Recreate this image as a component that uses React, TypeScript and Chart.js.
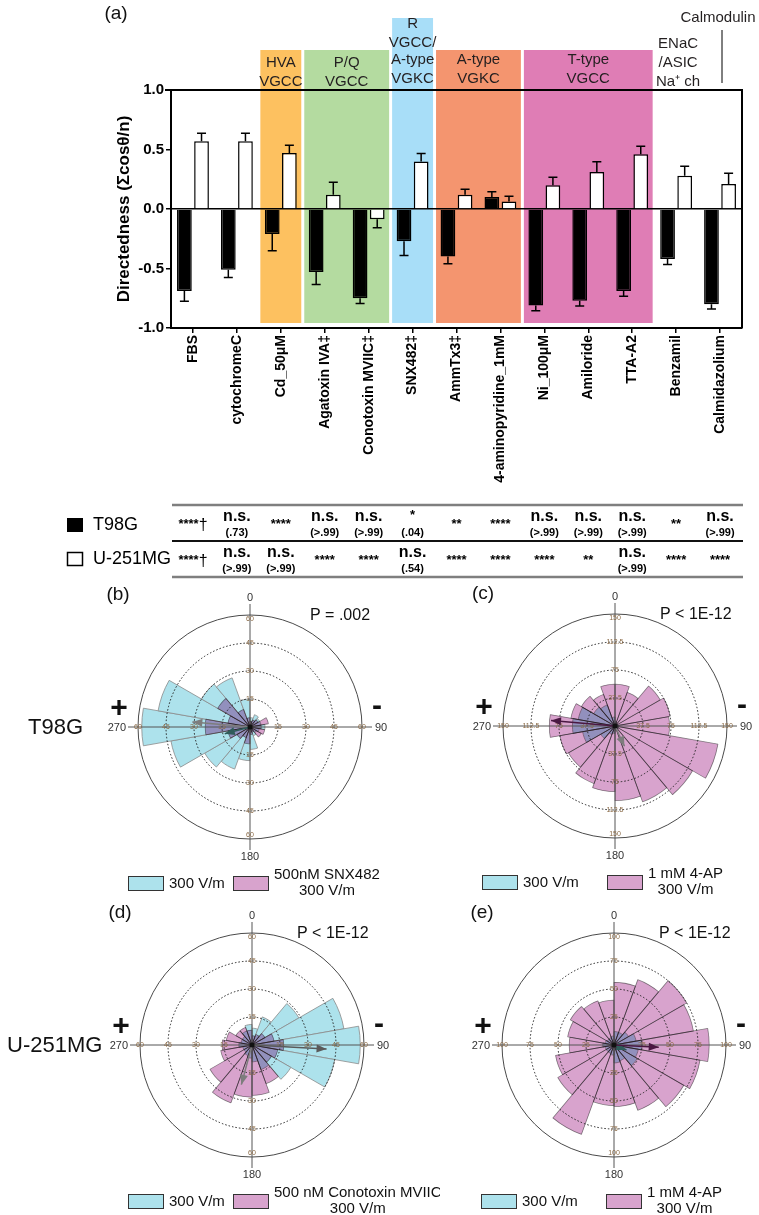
import React, { useEffect, useRef } from 'react';
import { Chart, registerables } from 'chart.js';
Chart.register(...registerables);

const FONT = "'Liberation Sans', Arial, Helvetica, sans-serif";
const NARROW = "'Liberation Sans Narrow', 'Arial Narrow', 'Liberation Sans', Arial, sans-serif";

// ---------------- Panel (a) data ----------------
const categories = [
  'FBS', 'cytochromeC', 'Cd_50μM', 'Agatoxin IVA‡', 'Conotoxin MVIIC‡', 'SNX482‡', 'AmmTx3‡',
  '4-aminopyridine_1mM', 'Ni_100μM', 'Amiloride', 'TTA-A2', 'Benzamil', 'Calmidazolium',
];
const t98gValues = [-0.69, -0.51, -0.21, -0.53, -0.75, -0.27, -0.40, 0.10, -0.81, -0.77, -0.69, -0.42, -0.80];
const t98gErrors = [0.086, 0.066, 0.14, 0.105, 0.045, 0.12, 0.06, 0.046, 0.044, 0.045, 0.043, 0.046, 0.04];
const u251Values = [0.57, 0.57, 0.47, 0.12, -0.087, 0.40, 0.12, 0.062, 0.20, 0.31, 0.46, 0.28, 0.21];
const u251Errors = [0.067, 0.067, 0.065, 0.105, 0.07, 0.066, 0.046, 0.045, 0.067, 0.087, 0.067, 0.08, 0.09];
const yTickValues = [-1, -0.5, 0, 0.5, 1];

const bandStart = [2, 3, 5, 6, 8];
const bandEnd = [2, 4, 5, 7, 10];
const bandLabels = [['HVA', 'VGCC'], ['P/Q', 'VGCC'], ['R', 'VGCC/', 'A-type', 'VGKC'], ['A-type', 'VGKC'], ['T-type', 'VGCC']];
const naLabel = ['ENaC', '/ASIC', 'Na⁺ ch'];
const calmodulinLabel = 'Calmodulin';

const sigT98G = ['****†', 'n.s.\n(.73)', '****', 'n.s.\n(>.99)', 'n.s.\n(>.99)', '*\n(.04)', '**', '****', 'n.s.\n(>.99)', 'n.s.\n(>.99)', 'n.s.\n(>.99)', '**', 'n.s.\n(>.99)'];
const sigU251 = ['****†', 'n.s.\n(>.99)', 'n.s.\n(>.99)', '****', '****', 'n.s.\n(.54)', '****', '****', '****', '**', 'n.s.\n(>.99)', '****', '****'];

// ---------------- Rose plots data (18 bins of 20°, clockwise from 0) ----------------
const roseBins = ['0', '20', '40', '60', '80', '100', '120', '140', '160', '180', '200', '220', '240', '260', '280', '300', '320', '340'];

const roseBControl = [5, 7, 6, 6, 8, 5, 4, 5, 12, 18, 24, 28, 43, 58, 50, 30, 28, 15];
const roseBDrug = [3, 4, 5, 10, 6, 8, 7, 3, 4, 9, 6, 8, 12, 24, 12, 20, 10, 5];
const roseBTicks = [15, 30, 45, 60];
const roseBArrows = [[275, 31], [255, 14]]; // [angle, length] control, drug

const roseCControl = [6, 4, 4, 4, 5, 5, 5, 5, 6, 10, 12, 22, 44, 57, 50, 33, 30, 12];
const roseCDrug = [56, 48, 70, 75, 73, 140, 120, 108, 100, 88, 82, 72, 75, 88, 60, 52, 45, 56];
const roseCTicks = [37.5, 75, 112.5, 150];
const roseCArrows = [[155, 30], [275, 86]];

const roseDControl = [9, 16, 29, 50, 58, 45, 24, 14, 9, 7, 6, 5, 5, 7, 6, 6, 8, 11];
const roseDDrug = [5, 6, 8, 12, 17, 14, 12, 22, 27, 28, 33, 26, 17, 16, 14, 10, 10, 8];
const roseDTicks = [15, 30, 45, 60];
const roseDArrows = [[93, 40], [195, 22]];

const roseEControl = [12, 12, 15, 20, 25, 22, 24, 15, 16, 9, 8, 8, 8, 10, 8, 7, 7, 8];
const roseEDrug = [56, 62, 75, 72, 85, 78, 72, 62, 55, 54, 85, 58, 53, 40, 42, 45, 42, 40];
const roseETicks = [25, 50, 75, 100];
const roseEArrows = [[112, 12], [93, 40]];

// ---------------- styles ----------------
const BAND_COLORS = ['#FDC160', '#B4DBA0', '#A8DEF8', '#F4956F', '#DF7DB5'];
const CYAN = '#ADE2EC';
const PINK = '#D8A3CD';

function txt(ctx: CanvasRenderingContext2D, s: string, x: number, y: number, font: string,
  align: CanvasTextAlign = 'center', color = '#000', baseline: CanvasTextBaseline = 'middle') {
  ctx.font = font;
  ctx.fillStyle = color;
  ctx.textAlign = align;
  ctx.textBaseline = baseline;
  ctx.fillText(s, x, y);
}

function drawCell(ctx: CanvasRenderingContext2D, text: string, x: number, rowTop: number) {
  const [main, sub] = text.split('\n');
  if (main.startsWith('n.s.')) {
    txt(ctx, 'n.s.', x, rowTop + 12, `bold 16px ${FONT}`);
  } else {
    const dagger = main.endsWith('†');
    const stars = dagger ? main.slice(0, -1) : main;
    ctx.font = `bold 13px ${FONT}`;
    const sw = ctx.measureText(stars).width;
    ctx.font = `16px ${FONT}`;
    const dw = dagger ? ctx.measureText('†').width : 0;
    const start = x - (sw + dw) / 2;
    const base = sub ? rowTop + 14 : rowTop + 23;
    txt(ctx, stars, start, base, `bold 13px ${FONT}`, 'left', '#000', 'alphabetic');
    if (dagger) txt(ctx, '†', start + sw, rowTop + 25, `16px ${FONT}`, 'left', '#000', 'alphabetic');
  }
  if (sub) txt(ctx, sub, x, rowTop + 28, `bold 11px ${FONT}`);
}

function BarPanel() {
  const ref = useRef<HTMLCanvasElement>(null);
  useEffect(() => {
    const canvas = ref.current!;
    const bandsPlugin = {
      id: 'bands',
      beforeDraw(chart: any) {
        const { ctx, scales: { x }, chartArea } = chart;
        const step = x.getPixelForValue(1) - x.getPixelForValue(0);
        ctx.save();
        bandStart.forEach((s, i) => {
          const left = x.getPixelForValue(s) - step / 2 + 1.5;
          const right = x.getPixelForValue(bandEnd[i]) + step / 2 - 1.5;
          const top = bandLabels[i].length > 2 ? 18 : 50;
          ctx.fillStyle = BAND_COLORS[i];
          ctx.fillRect(left, top, right - left, chartArea.bottom - 5 - top);
          const lines = bandLabels[i];
          const lastY = i < 2 ? 82 : 79;
          const cxm = (left + right) / 2;
          lines.forEach((ln, k) => {
            const yy = lines.length > 2 ? [24, 43, 60, 79][k] : lastY - (lines.length - 1 - k) * 19;
            txt(ctx, ln, cxm, yy, `15px ${NARROW}`, 'center', '#231F20');
          });
        });
        const bx = x.getPixelForValue(11);
        naLabel.forEach((ln, k) => txt(ctx, ln, bx + 2, 44 + k * 19, `15px ${NARROW}`, 'center', '#231F20'));
        txt(ctx, calmodulinLabel, 718, 18, `15px ${NARROW}`, 'center', '#231F20');
        ctx.strokeStyle = '#000';
        ctx.lineWidth = 1;
        ctx.beginPath();
        ctx.moveTo(722, 30);
        ctx.lineTo(722, 83);
        ctx.stroke();
        txt(ctx, '(a)', 116, 14, `19px ${FONT}`, 'center', '#111');
        ctx.restore();
      },
      afterDatasetsDraw(chart: any) {
        const { ctx, scales: { y }, chartArea } = chart;
        ctx.save();
        ctx.strokeStyle = '#000';
        ctx.lineWidth = 1.5;
        [t98gErrors, u251Errors].forEach((errs, di) => {
          const meta = chart.getDatasetMeta(di);
          const vals = chart.data.datasets[di].data as number[];
          meta.data.forEach((bar: any, i: number) => {
            const v = vals[i];
            const tip = v + Math.sign(v) * errs[i];
            const yv = y.getPixelForValue(v);
            const yt = y.getPixelForValue(tip);
            ctx.beginPath();
            ctx.moveTo(bar.x, yv);
            ctx.lineTo(bar.x, yt);
            ctx.moveTo(bar.x - 4.5, yt);
            ctx.lineTo(bar.x + 4.5, yt);
            ctx.stroke();
          });
        });
        ctx.lineWidth = 2;
        ctx.beginPath();
        ctx.moveTo(chartArea.left - 6, chartArea.top);
        ctx.lineTo(chartArea.right, chartArea.top);
        ctx.lineTo(chartArea.right, chartArea.bottom);
        ctx.stroke();
        ctx.restore();
      },
      afterDraw(chart: any) {
        const { ctx, scales: { x } } = chart;
        ctx.save();
        const rows = [505, 541];
        ctx.lineWidth = 2.5;
        ctx.strokeStyle = '#7f7f7f';
        ctx.beginPath(); ctx.moveTo(172, 505); ctx.lineTo(743, 505); ctx.stroke();
        ctx.beginPath(); ctx.moveTo(172, 577); ctx.lineTo(743, 577); ctx.stroke();
        ctx.lineWidth = 2;
        ctx.strokeStyle = '#111';
        ctx.beginPath(); ctx.moveTo(172, 541); ctx.lineTo(743, 541); ctx.stroke();
        ctx.fillStyle = '#000';
        ctx.fillRect(67, 518, 16, 14);
        ctx.lineWidth = 1.5;
        ctx.strokeStyle = '#000';
        ctx.strokeRect(67.5, 552.5, 15, 13);
        txt(ctx, 'T98G', 93, 525, `18px ${FONT}`, 'left');
        txt(ctx, 'U-251MG', 93, 559, `18px ${FONT}`, 'left');
        [sigT98G, sigU251].forEach((row, r) => {
          row.forEach((cell, i) => drawCell(ctx, cell, x.getPixelForValue(i), rows[r]));
        });
        ctx.restore();
      },
    };
    const chart = new Chart(canvas, {
      type: 'bar',
      data: {
        labels: categories,
        datasets: [
          { label: 'T98G', data: t98gValues, backgroundColor: '#000', borderColor: '#000', borderWidth: 1.5 },
          { label: 'U-251MG', data: u251Values, backgroundColor: '#fff', borderColor: '#000', borderWidth: 1.5 },
        ],
      },
      options: {
        responsive: false,
        animation: false,
        devicePixelRatio: 1,
        layout: { padding: { left: 110, right: 17, top: 90, bottom: 0 } },
        plugins: { legend: { display: false }, tooltip: { enabled: false } },
        datasets: { bar: { categoryPercentage: 0.78, barPercentage: 0.86 } },
        scales: {
          x: {
            ticks: {
              autoSkip: false, maxRotation: 90, minRotation: 90, padding: 2, color: '#000',
              font: { family: FONT, size: 14, weight: 'bold' },
            },
            grid: { display: true, drawOnChartArea: false, drawTicks: true, tickLength: 5, color: '#000', lineWidth: 1.5, offset: false },
            border: { display: true, color: '#000', width: 2 },
            afterFit: (s: any) => { s.height = 580 - 328; },
          },
          y: {
            min: -1, max: 1,
            afterBuildTicks: (s: any) => { s.ticks = yTickValues.map((v) => ({ value: v })); },
            ticks: {
              padding: 2, color: '#000', font: { family: FONT, size: 15, weight: 'bold' },
              callback: (v: any) => Number(v).toFixed(1),
            },
            grid: {
              color: (c: any) => (c.tick && c.tick.value === 0 ? '#000' : 'rgba(0,0,0,0)'),
              tickColor: '#000', lineWidth: 1.5, tickLength: 5,
            },
            border: { display: true, color: '#000', width: 2 },
            title: { display: true, text: 'Directedness (Σcosθ/n)', color: '#000', font: { family: FONT, size: 17, weight: 'bold' } },
            afterFit: (s: any) => { s.width = 61; },
          },
        },
      },
      plugins: [bandsPlugin],
    } as any);
    return () => chart.destroy();
  }, []);
  return <canvas ref={ref} width={759} height={580} style={{ position: 'absolute', left: 0, top: 0, width: 759, height: 580 }} />;
}

type Legend = { cyanX: number; pinkX: number; pinkLines: string[] };
type RoseSpec = {
  left: number; top: number; width: number; height: number; cx: number; cy: number;
  control: number[]; drug: number[]; ticks: number[]; arrows: number[][];
  arrowColors: string[]; letter: string; pText: string; pX: number;
  rowLabel?: string; rowLabelX?: number; legend: Legend;
};

const R = 112;

const roseSpecs: RoseSpec[] = [
  {
    left: 0, top: 575, width: 440, height: 325, cx: 250, cy: 152,
    control: roseBControl, drug: roseBDrug, ticks: roseBTicks, arrows: roseBArrows,
    arrowColors: ['#7d7d7d', '#2f5c5a'], letter: '(b)', pText: 'P = .002', pX: 60,
    rowLabel: 'T98G', rowLabelX: 28,
    legend: { cyanX: -122, pinkX: -17, pinkLines: ['500nM SNX482', '300 V/m'] },
  },
  {
    left: 380, top: 575, width: 379, height: 325, cx: 235, cy: 151,
    control: roseCControl, drug: roseCDrug, ticks: roseCTicks, arrows: roseCArrows,
    arrowColors: ['#7d7d7d', '#4a1842'], letter: '(c)', pText: 'P < 1E-12', pX: 45,
    legend: { cyanX: -133, pinkX: -8, pinkLines: ['1 mM 4-AP', '300 V/m'] },
  },
  {
    left: 0, top: 900, width: 440, height: 315, cx: 252, cy: 145,
    control: roseDControl, drug: roseDDrug, ticks: roseDTicks, arrows: roseDArrows,
    arrowColors: ['#5a5a5a', '#7d7d7d'], letter: '(d)', pText: 'P < 1E-12', pX: 45,
    rowLabel: 'U-251MG', rowLabelX: 7,
    legend: { cyanX: -124, pinkX: -19, pinkLines: ['500 nM Conotoxin MVIIC', '300 V/m'] },
  },
  {
    left: 380, top: 900, width: 379, height: 315, cx: 234, cy: 145,
    control: roseEControl, drug: roseEDrug, ticks: roseETicks, arrows: roseEArrows,
    arrowColors: ['#2f5c5a', '#4a1842'], letter: '(e)', pText: 'P < 1E-12', pX: 45,
    legend: { cyanX: -133, pinkX: -8, pinkLines: ['1 mM 4-AP', '300 V/m'] },
  },
];

function RosePanel({ spec }: { spec: RoseSpec }) {
  const ref = useRef<HTMLCanvasElement>(null);
  useEffect(() => {
    const canvas = ref.current!;
    const multiplyPlugin = {
      id: 'multiply',
      beforeDatasetDraw(chart: any, args: any) {
        if (args.index === 0) { chart.ctx.save(); chart.ctx.globalCompositeOperation = 'multiply'; }
      },
      afterDatasetDraw(chart: any, args: any) {
        if (args.index === 0) chart.ctx.restore();
      },
    };
    const rosePlugin = {
      id: 'rose',
      afterDatasetsDraw(chart: any) {
        const { ctx } = chart;
        const r = chart.scales.r;
        const cx = r.xCenter;
        const cy = r.yCenter;
        ctx.save();
        spec.ticks.forEach((t, i) => {
          const d = r.getDistanceFromCenterForValue(t);
          ctx.beginPath();
          ctx.arc(cx, cy, d, 0, Math.PI * 2);
          if (i === spec.ticks.length - 1) {
            ctx.setLineDash([]);
            ctx.strokeStyle = '#4a4a4a';
          } else {
            ctx.setLineDash([1.5, 2]);
            ctx.strokeStyle = '#222';
          }
          ctx.lineWidth = 1;
          ctx.stroke();
        });
        ctx.setLineDash([]);
        ctx.strokeStyle = '#555';
        ctx.lineWidth = 1;
        ctx.beginPath();
        ctx.moveTo(cx - 122, cy); ctx.lineTo(cx + 122, cy);
        ctx.moveTo(cx, cy - 123); ctx.lineTo(cx, cy + 123);
        ctx.stroke();
        spec.ticks.forEach((t, i) => {
          const d = r.getDistanceFromCenterForValue(t);
          const s = String(t);
          const f = `7px ${FONT}`;
          const off = i === spec.ticks.length - 1 ? 4 : 0;
          txt(ctx, s, cx + d, cy, f, 'center', '#8a6a46');
          txt(ctx, s, cx - d, cy, f, 'center', '#8a6a46');
          txt(ctx, s, cx, cy - d + off, f, 'center', '#8a6a46');
          txt(ctx, s, cx, cy + d - off, f, 'center', '#8a6a46');
        });
        spec.arrows.forEach(([ang, len], k) => {
          const d = r.getDistanceFromCenterForValue(len);
          const a = (ang - 90) * Math.PI / 180;
          const tx = cx + d * Math.cos(a);
          const ty = cy + d * Math.sin(a);
          ctx.strokeStyle = spec.arrowColors[k];
          ctx.fillStyle = spec.arrowColors[k];
          ctx.lineWidth = 1.5;
          ctx.beginPath();
          ctx.moveTo(cx, cy);
          ctx.lineTo(tx, ty);
          ctx.stroke();
          const hl = 10, hw = 4;
          const bx = tx - hl * Math.cos(a), by = ty - hl * Math.sin(a);
          ctx.beginPath();
          ctx.moveTo(tx, ty);
          ctx.lineTo(bx + hw * Math.sin(a), by - hw * Math.cos(a));
          ctx.lineTo(bx - hw * Math.sin(a), by + hw * Math.cos(a));
          ctx.closePath();
          ctx.fill();
        });
        ctx.fillStyle = '#111';
        ctx.beginPath();
        ctx.arc(cx, cy, 2.5, 0, Math.PI * 2);
        ctx.fill();
        const lf = `11px ${FONT}`;
        txt(ctx, '0', cx, cy - 129, lf, 'center', '#333');
        txt(ctx, '180', cx, cy + 130, lf, 'center', '#333');
        txt(ctx, '270', cx - 124, cy + 1, lf, 'right', '#333');
        txt(ctx, '90', cx + 125, cy + 1, lf, 'left', '#333');
        txt(ctx, '+', cx - 131, cy - 18, `bold 30px ${FONT}`, 'center', '#111');
        txt(ctx, '-', cx + 127, cy - 20, `bold 30px ${FONT}`, 'center', '#111');
        txt(ctx, spec.letter, cx - 132, cy - 132, `19px ${FONT}`, 'center', '#111');
        txt(ctx, spec.pText, cx + spec.pX, cy - 111, `16px ${FONT}`, 'left', '#111');
        if (spec.rowLabel) txt(ctx, spec.rowLabel, spec.rowLabelX!, cy + 1, `22px ${FONT}`, 'left', '#111');
        const lg = spec.legend;
        const by = cy + 149;
        ctx.lineWidth = 1;
        ctx.strokeStyle = '#333';
        ctx.fillStyle = CYAN;
        ctx.fillRect(cx + lg.cyanX, by, 35, 14);
        ctx.strokeRect(cx + lg.cyanX + 0.5, by + 0.5, 35, 14);
        txt(ctx, '300 V/m', cx + lg.cyanX + 41, by + 8, `15px ${FONT}`, 'left', '#111');
        ctx.fillStyle = PINK;
        ctx.fillRect(cx + lg.pinkX, by, 35, 14);
        ctx.strokeRect(cx + lg.pinkX + 0.5, by + 0.5, 35, 14);
        ctx.font = `15px ${FONT}`;
        const w0 = ctx.measureText(lg.pinkLines[0]).width;
        const tcx = cx + lg.pinkX + 41 + w0 / 2;
        txt(ctx, lg.pinkLines[0], tcx, by - 1, `15px ${FONT}`, 'center', '#111');
        txt(ctx, lg.pinkLines[1], tcx, by + 15, `15px ${FONT}`, 'center', '#111');
        ctx.restore();
      },
    };
    const max = spec.ticks[spec.ticks.length - 1];
    const chart = new Chart(canvas, {
      type: 'polarArea',
      data: {
        labels: roseBins,
        datasets: [
          { label: spec.legend.pinkLines.join(' '), data: spec.drug, backgroundColor: PINK, borderColor: '#8a8a8a', borderWidth: 0.8 },
          { label: '300 V/m', data: spec.control, backgroundColor: CYAN, borderColor: '#8a8a8a', borderWidth: 0.8 },
        ],
      },
      options: {
        responsive: false,
        animation: false,
        devicePixelRatio: 1,
        layout: {
          padding: {
            left: spec.cx - R, right: spec.width - spec.cx - R,
            top: spec.cy - R, bottom: spec.height - spec.cy - R,
          },
        },
        plugins: { legend: { display: false }, tooltip: { enabled: false } },
        scales: {
          r: {
            min: 0, max,
            startAngle: 0,
            ticks: { display: false, stepSize: spec.ticks[0] },
            grid: { display: false },
            angleLines: { display: false },
            pointLabels: { display: false },
          },
        },
      },
      plugins: [multiplyPlugin, rosePlugin],
    } as any);
    return () => chart.destroy();
  }, [spec]);
  return (
    <canvas ref={ref} width={spec.width} height={spec.height}
      style={{ position: 'absolute', left: spec.left, top: spec.top, width: spec.width, height: spec.height }} />
  );
}

export default function App() {
  return (
    <div style={{ position: 'absolute', left: 0, top: 0, width: 759, height: 1215, background: '#fff', overflow: 'hidden' }}>
      <BarPanel />
      {roseSpecs.map((s, i) => <RosePanel key={i} spec={s} />)}
    </div>
  );
}
